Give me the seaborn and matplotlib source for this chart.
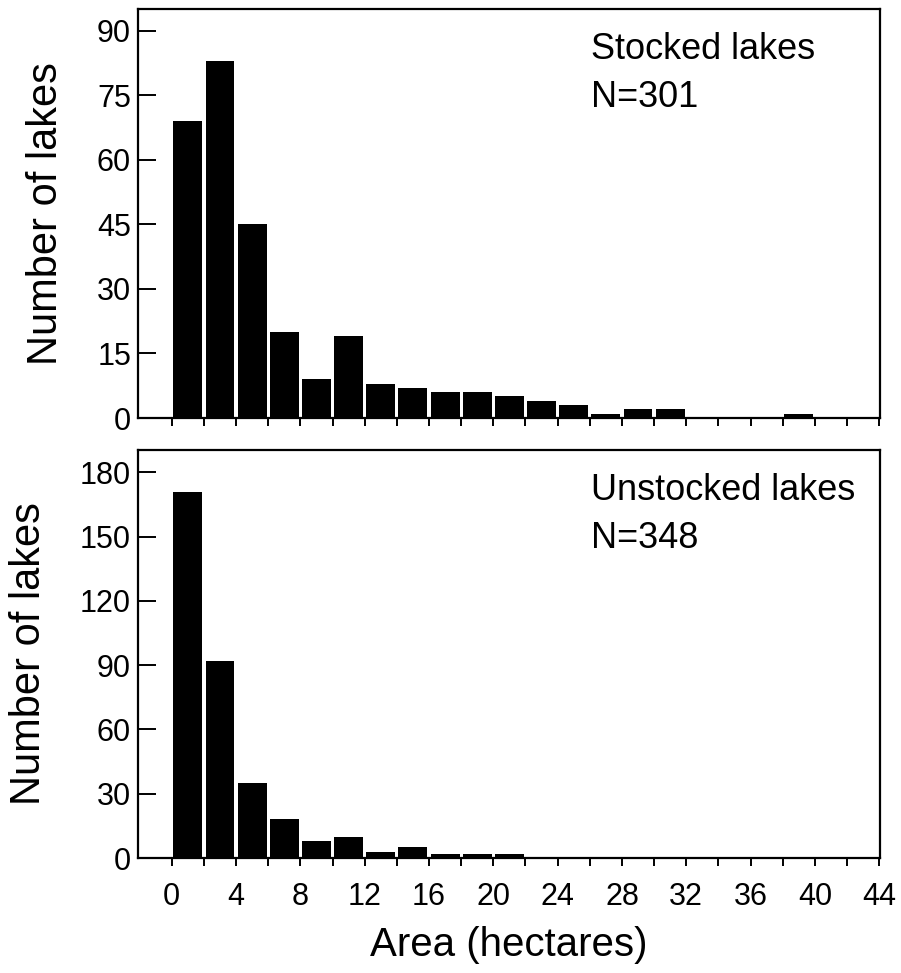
import numpy as np
import pandas as pd
import matplotlib
matplotlib.use("Agg")
import matplotlib.pyplot as plt
import seaborn as sns

# ---- data (bin left edges, width 2 ha) ----
bin_left = list(range(0, 44, 2))
stocked_counts = [69, 83, 45, 20, 9, 19, 8, 7, 6, 6, 5, 4, 3, 1, 2, 2, 0, 0, 0, 1, 0, 0]
unstocked_counts = [171, 92, 35, 18, 8, 10, 3, 5, 2, 2, 2, 0, 0, 0, 0, 0, 0, 0, 0, 0, 0, 0]
panel_titles = ["Stocked lakes\nN=301", "Unstocked lakes\nN=348"]
x_major_ticks = list(range(0, 45, 4))
x_minor_ticks = list(range(2, 44, 4))
top_yticks = [0, 15, 30, 45, 60, 75, 90]
bottom_yticks = [0, 30, 60, 90, 120, 150, 180]

sns.set_style("white")
plt.rcParams["font.family"] = ["Liberation Sans", "DejaVu Sans"]
plt.rcParams["text.color"] = "black"
plt.rcParams["axes.labelcolor"] = "black"
plt.rcParams["xtick.color"] = "black"
plt.rcParams["ytick.color"] = "black"

fig = plt.figure(figsize=(9.01, 9.73), dpi=100)
L, R = 138 / 901, 880 / 901
ax1 = fig.add_axes([L, 1 - 418 / 973, R - L, (418 - 9) / 973])
ax2 = fig.add_axes([L, 1 - 858 / 973, R - L, (858 - 450) / 973])

df1 = pd.DataFrame({"area": bin_left, "n": stocked_counts})
df2 = pd.DataFrame({"area": bin_left, "n": unstocked_counts})

for ax, df, yticks, ymax, title in [
    (ax1, df1, top_yticks, 95, panel_titles[0]),
    (ax2, df2, bottom_yticks, 190.5, panel_titles[1]),
]:
    sns.histplot(data=df, x="area", weights="n", binwidth=2, binrange=(0, 44),
                 shrink=0.9, color="black", edgecolor="black", linewidth=0,
                 alpha=1, ax=ax)
    ax.set_xlim(-2.1, 44.05)
    ax.set_ylim(0, ymax)
    ax.set_yticks(yticks)
    ax.set_xticks(x_major_ticks)
    ax.set_xticks(x_minor_ticks, minor=True)
    for s in ax.spines.values():
        s.set_linewidth(1.6)
        s.set_color("black")
    ax.tick_params(axis="x", which="both", bottom=True, direction="out",
                   length=6, width=1.4, colors="black", labelsize=22, pad=11)
    ax.tick_params(axis="y", which="major", left=True, direction="in",
                   length=13, width=1.4, colors="black", labelsize=22, pad=5)
    ax.set_ylabel("Number of lakes", fontsize=30, labelpad=22, color="black")
    ax.set_xlabel("")
    lines = title.split("\n")
    ax.text(0.611, 0.90, lines[0], transform=ax.transAxes, fontsize=26,
            ha="left", va="center", color="black")
    ax.text(0.611, 0.783, lines[1], transform=ax.transAxes, fontsize=26,
            ha="left", va="center", color="black")

ax1.tick_params(axis="x", which="both", labelbottom=False)
ax2.set_xlabel("Area (hectares)", fontsize=29, labelpad=10, color="black")

fig.savefig("out.png", dpi=100)
